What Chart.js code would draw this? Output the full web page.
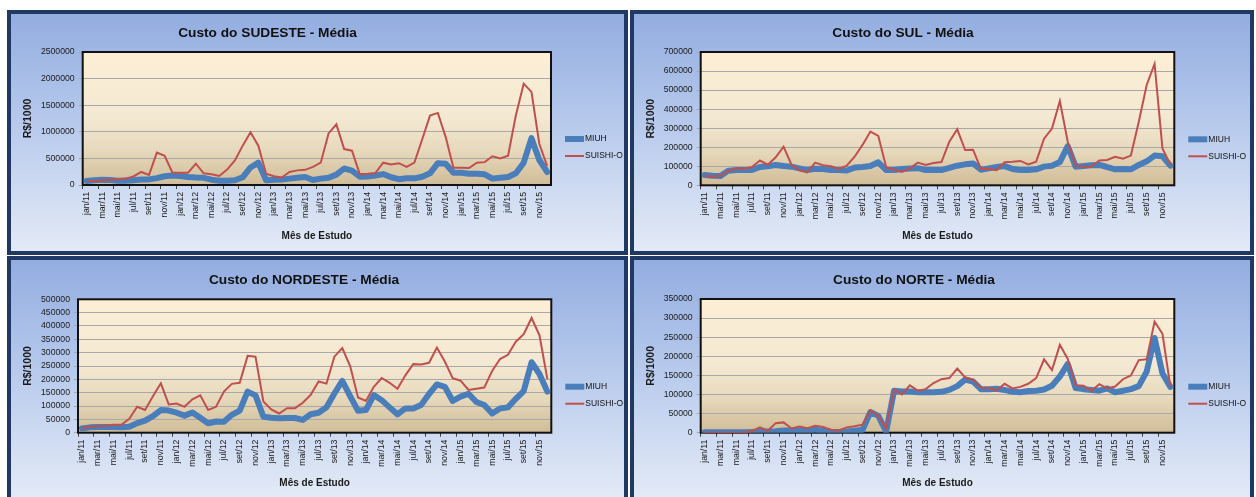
<!DOCTYPE html>
<html><head><meta charset="utf-8">
<script src="https://cdn.jsdelivr.net/npm/chart.js@4.4.1/dist/chart.umd.min.js"></script>
<style>
html,body{margin:0;padding:0;background:#fff;width:1256px;height:497px;overflow:hidden;position:relative;}
.panel{position:absolute;box-sizing:border-box;border:4px solid #1f3864;background:linear-gradient(to bottom,#93ade0 0%,#b6c9ec 45%,#e3eaf6 100%);}
.panel canvas{position:absolute;left:0;top:0;}
</style></head><body>
<script>
const LABELS = [
 'jan/11','fev/11','mar/11','abr/11','mai/11','jun/11','jul/11','ago/11','set/11','out/11','nov/11','dez/11',
 'jan/12','fev/12','mar/12','abr/12','mai/12','jun/12','jul/12','ago/12','set/12','out/12','nov/12','dez/12',
 'jan/13','fev/13','mar/13','abr/13','mai/13','jun/13','jul/13','ago/13','set/13','out/13','nov/13','dez/13',
 'jan/14','fev/14','mar/14','abr/14','mai/14','jun/14','jul/14','ago/14','set/14','out/14','nov/14','dez/14',
 'jan/15','fev/15','mar/15','abr/15','mai/15','jun/15','jul/15','ago/15','set/15','out/15','nov/15','dez/15'];

const SERIES_NAMES = ['MIUH','SUISHI-O'];

const SUDESTE_MIUH = [75000,90000,100000,95000,80000,80000,90000,105000,105000,130000,
 165000,180000,170000,150000,140000,135000,100000,80000,80000,90000,
 145000,330000,420000,90000,100000,105000,120000,135000,150000,95000,
 120000,135000,195000,310000,270000,155000,160000,180000,205000,145000,
 110000,125000,125000,155000,220000,410000,400000,230000,230000,212000,
 212000,200000,120000,135000,150000,220000,420000,880000,470000,245000];
const SUDESTE_SUISHI = [70000,75000,90000,100000,110000,120000,160000,245000,190000,610000,
 550000,230000,230000,230000,400000,220000,200000,170000,290000,460000,
 740000,990000,740000,210000,165000,140000,245000,275000,285000,340000,
 420000,970000,1140000,675000,645000,205000,212000,225000,420000,385000,
 410000,340000,420000,860000,1305000,1355000,905000,325000,325000,320000,
 420000,430000,540000,500000,550000,1310000,1905000,1750000,775000,360000];

const SUL_MIUH = [54000,50000,49000,77000,80000,80000,80000,96000,100000,107000,
 101000,98000,89000,80000,87000,86000,80000,80000,78000,93000,
 96000,101000,121000,80000,80000,86000,88000,90000,80000,80000,
 80000,91000,103000,110000,115000,82000,89000,96000,101000,86000,
 80000,80000,84000,98000,103000,122000,206000,98000,101000,105000,
 107000,96000,84000,86000,84000,107000,126000,156000,152000,103000];
const SUL_SUISHI = [50000,45000,50000,75000,89000,87000,96000,130000,108000,147000,
 203000,108000,80000,68000,119000,105000,100000,86000,103000,150000,
 212000,282000,259000,95000,82000,70000,89000,119000,107000,117000,
 122000,229000,294000,185000,187000,86000,87000,79000,121000,124000,
 128000,110000,124000,245000,298000,443000,229000,103000,98000,98000,
 130000,133000,150000,140000,156000,334000,527000,637000,194000,108000];

const NORDESTE_MIUH = [16000,20000,21000,21000,21000,20000,22000,36000,45000,62000,
 85000,83000,75000,64000,76000,56000,35000,42000,41000,67000,
 83000,154000,140000,60000,56000,54000,55000,55000,48000,69000,
 75000,95000,147000,194000,137000,82000,85000,141000,122000,95000,
 69000,91000,91000,104000,145000,181000,172000,119000,135000,146000,
 115000,104000,72000,91000,95000,127000,156000,264000,220000,154000];
const NORDESTE_SUISHI = [17500,21000,25000,26000,30000,30000,52000,97000,85000,137000,
 185000,106000,109000,97000,125000,140000,85000,97000,154000,183000,
 187000,288000,285000,117000,87000,72000,92000,92000,112000,142000,
 192000,184000,285000,317000,250000,132000,119000,172000,205000,187000,
 165000,215000,257000,256000,262000,319000,267000,204000,195000,160000,
 165000,169000,231000,276000,292000,341000,369000,430000,365000,201000];

const NORTE_MIUH = [1000,1000,1000,1000,1000,1000,2000,3000,3000,4000,
 6000,6000,6000,5000,8000,5000,2000,2000,3000,5000,
 7000,54000,44000,3000,110000,108000,108000,106000,106000,106000,
 107000,112000,122000,139000,134000,114000,114000,115000,112000,107000,
 106000,109000,110000,113000,123000,147000,180000,117000,114000,112000,
 110000,116000,106000,110000,114000,122000,160000,248000,155000,120000];
const NORTE_SUISHI = [0,0,0,0,0,500,4000,14000,5000,25000,
 27000,11000,16000,12000,18000,15000,8000,6000,14000,17000,
 21000,59000,44000,12000,113000,100000,124000,110000,114000,130000,
 140000,143000,168000,145000,138000,118000,117000,111000,128000,116000,
 120000,128000,143000,192000,164000,230000,193000,124000,123000,110000,
 127000,116000,121000,140000,150000,190000,192000,291000,259000,121000];

const TITLES = ['Custo do SUDESTE - Média','Custo do SUL - Média','Custo do NORDESTE - Média','Custo do NORTE - Média'];
const Y_MAX = [2500000,700000,500000,350000];
const Y_STEP = [500000,100000,50000,50000];
const X_TITLE = 'Mês de Estudo';
const Y_TITLE = 'R$/1000';

// layout (page pixel positions)
const LAYOUT = [
 {box:[7,10,621,245],   plot:[82.7,52,551,185],      titleAt:[267.5,33], yTitleX:28,  xTitleY:236},
 {box:[630,10,624,245], plot:[700.7,52,1174.3,185.3], titleAt:[903,33],  yTitleX:651, xTitleY:236},
 {box:[7,256,621,245],  plot:[78,299.3,551.3,432.7],  titleAt:[304,280], yTitleX:28,  xTitleY:483},
 {box:[630,256,624,245],plot:[700.7,299,1174.3,432.7],titleAt:[914,280], yTitleX:651, xTitleY:483}
];
const DATA = [[SUDESTE_MIUH,SUDESTE_SUISHI],[SUL_MIUH,SUL_SUISHI],[NORDESTE_MIUH,NORDESTE_SUISHI],[NORTE_MIUH,NORTE_SUISHI]];

const FONT = "'Liberation Sans', Arial, sans-serif";
Chart.defaults.font.family = FONT;
const BORDER = 4;

function decoPlugin(title, L, ix, iy){
  return {
    id:'deco',
    beforeDraw(chart){
      const {ctx, chartArea:a} = chart;
      const g = ctx.createLinearGradient(0,a.top,0,a.bottom);
      g.addColorStop(0,'#fdefd6'); g.addColorStop(0.5,'#f3e8d2'); g.addColorStop(0.75,'#e6d8bb'); g.addColorStop(1,'#d0bc97');
      ctx.save(); ctx.fillStyle=g; ctx.fillRect(a.left,a.top,a.right-a.left,a.bottom-a.top); ctx.restore();
    },
    beforeDatasetsDraw(chart){
      const {ctx, chartArea:a} = chart;
      ctx.save(); ctx.strokeStyle='#111'; ctx.lineWidth=2;
      ctx.strokeRect(a.left,a.top,a.right-a.left,a.bottom-a.top); ctx.restore();
    },
    afterDraw(chart){
      const {ctx, chartArea:a} = chart;
      ctx.save();
      ctx.fillStyle='#111'; ctx.font="bold 13.7px "+FONT; ctx.textAlign='center'; ctx.textBaseline='middle';
      ctx.fillText(title, L.titleAt[0]-ix, L.titleAt[1]-iy);
      const x0 = a.right + 14;
      chart.data.datasets.forEach((ds,k)=>{
        const y = a.bottom - (k===0 ? 46 : 29);
        ctx.strokeStyle = ds.borderColor; ctx.lineWidth = ds.borderWidth; ctx.lineCap = 'butt';
        ctx.beginPath(); ctx.moveTo(x0,y); ctx.lineTo(x0+19,y); ctx.stroke();
        ctx.fillStyle='#111'; ctx.font="8.5px "+FONT; ctx.textAlign='left'; ctx.textBaseline='middle';
        ctx.fillText(ds.label, x0+20, y);
      });
      ctx.restore();
    }
  };
}

LAYOUT.forEach((L,n)=>{
  const div = document.createElement('div');
  div.className='panel';
  Object.assign(div.style,{left:L.box[0]+'px',top:L.box[1]+'px',width:L.box[2]+'px',height:L.box[3]+'px'});
  document.body.appendChild(div);
  const ix=L.box[0]+BORDER, iy=L.box[1]+BORDER, iw=L.box[2]-2*BORDER, ih=L.box[3]-2*BORDER;
  const cv=document.createElement('canvas');
  cv.width=iw; cv.height=ih; cv.style.width=iw+'px'; cv.style.height=ih+'px';
  div.appendChild(cv);
  const cl=L.plot[0]-ix, ct=L.plot[1]-iy, cr=L.plot[2]-ix, cb=L.plot[3]-iy;
  const padLeft=L.yTitleX-ix-6;
  const yW=cl-padLeft;
  const xH=L.xTitleY-iy+6-cb;
  const padBottom=ih-cb-xH;
  new Chart(cv,{
    type:'line',
    data:{labels:LABELS,datasets:[
      {label:SERIES_NAMES[0],data:DATA[n][0],borderColor:'#4a7ebb',borderWidth:6,order:2,pointRadius:0,tension:0,fill:false,borderJoinStyle:'round',borderCapStyle:'round'},
      {label:SERIES_NAMES[1],data:DATA[n][1],borderColor:'#c0504d',borderWidth:2,order:1,pointRadius:0,tension:0,fill:false}
    ]},
    options:{
      responsive:false,animation:false,devicePixelRatio:1,
      layout:{padding:{left:padLeft,right:iw-cr,top:ct,bottom:padBottom}},
      plugins:{legend:{display:false},tooltip:{enabled:false},title:{display:false}},
      scales:{
        x:{offset:true,
           grid:{drawOnChartArea:false,drawTicks:true,tickLength:4,offset:true,color:(c)=>c.index%2===0?'#404040':'rgba(0,0,0,0)'},
           border:{display:false},
           ticks:{autoSkip:false,maxRotation:90,minRotation:90,padding:3,color:'#1a1a1a',font:{size:8.7},
                  callback:(v,i)=>i%2===0?LABELS[i]:''},
           title:{display:true,text:X_TITLE,font:{size:10,weight:'bold'},color:'#1a1a1a',padding:0},
           afterFit:(s)=>{s.height=xH;}},
        y:{min:0,max:Y_MAX[n],
           grid:{color:'#a8a8a8',lineWidth:1,tickLength:4,drawTicks:true},
           border:{display:false},
           ticks:{stepSize:Y_STEP[n],autoSkip:false,maxTicksLimit:20,padding:4,color:'#1a1a1a',font:{size:8.7},callback:(v)=>String(v)},
           title:{display:true,text:Y_TITLE,font:{size:10.5,weight:'bold'},color:'#1a1a1a',padding:0},
           afterFit:(s)=>{s.width=yW;}}
      }
    },
    plugins:[decoPlugin(TITLES[n],L,ix,iy)]
  });
});
</script>
</body></html>
